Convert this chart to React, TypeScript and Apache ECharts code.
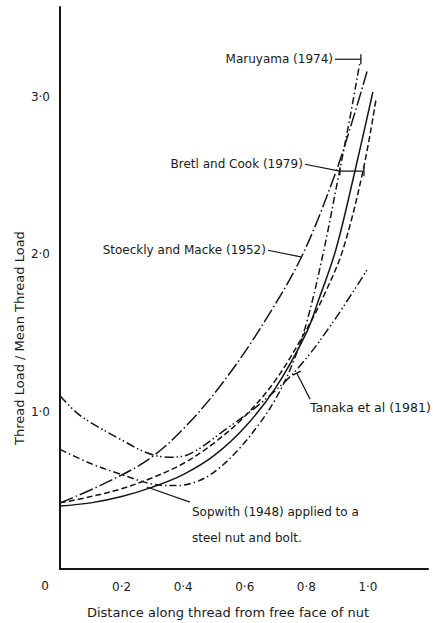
import React, { useEffect, useRef } from "react";
import * as echarts from "echarts";

// x: distance along thread from free face of nut ; y: thread load / mean thread load
const maruyama: [number, number][] = [
  [0, 0.76], [0.1, 0.67], [0.2, 0.6], [0.3, 0.54], [0.38, 0.53], [0.45, 0.56], [0.51, 0.63],
  [0.58, 0.76], [0.65, 0.93], [0.7, 1.08], [0.75, 1.28], [0.8, 1.56], [0.854, 2.0],
  [0.903, 2.48], [0.94, 2.85], [0.974, 3.22],
];
const stoeckly: [number, number][] = [
  [0, 0.42], [0.13, 0.53], [0.29, 0.7], [0.42, 0.93], [0.55, 1.24], [0.67, 1.59],
  [0.786, 1.99], [0.89, 2.49], [0.95, 2.85], [0.997, 3.16],
];
const sopwith: [number, number][] = [
  [0, 0.4], [0.1, 0.42], [0.2, 0.46], [0.3, 0.52], [0.4, 0.6], [0.5, 0.72], [0.6, 0.9],
  [0.7, 1.15], [0.8, 1.5], [0.84, 1.71], [0.896, 2.03], [0.958, 2.53], [1.016, 3.03],
];
const bretlCook: [number, number][] = [
  [0, 0.42], [0.1, 0.46], [0.2, 0.51], [0.3, 0.58], [0.4, 0.67], [0.5, 0.8], [0.6, 0.97],
  [0.7, 1.2], [0.8, 1.52], [0.86, 1.75], [0.919, 2.03], [0.984, 2.53], [1.026, 2.98],
];
const tanaka: [number, number][] = [
  [0, 1.1], [0.05, 1.0], [0.1, 0.93], [0.2, 0.82], [0.28, 0.74], [0.35, 0.71], [0.42, 0.73],
  [0.54, 0.89], [0.65, 1.05], [0.77, 1.27], [0.88, 1.55], [0.997, 1.9],
];

const xTicks = [0.2, 0.4, 0.6, 0.8, 1.0];
const yTicks = [1.0, 2.0, 3.0];

const xTitle = "Distance along thread from free face of nut";
const yTitle = "Thread Load / Mean Thread Load";

const FONT = '"DejaVu Sans", sans-serif';
const INK = "#151515";

const fmt = (v: number) => v.toFixed(1).replace(".", "·");

export default function App() {
  const ref = useRef<HTMLDivElement>(null);
  useEffect(() => {
    if (!ref.current) return;
    const chart = echarts.init(ref.current, undefined, { renderer: "svg" });
    const lineSeries = (data: [number, number][], type: any, width = 1.5) => ({
      type: "line",
      data,
      showSymbol: false,
      smooth: 0.35,
      silent: true,
      lineStyle: { color: INK, width, type, cap: "butt" },
    });
    chart.setOption({
      animation: false,
      backgroundColor: "#ffffff",
      grid: { left: 60, right: 5, top: 7, bottom: 54, outerBoundsMode: "none", containLabel: false },
      xAxis: {
        type: "value",
        min: 0,
        max: 1.195,
        interval: 0.2,
        splitLine: { show: false },
        axisTick: { show: false },
        axisLine: { show: true, lineStyle: { color: INK, width: 2 } },
        axisLabel: {
          showMaxLabel: false,
          margin: 12,
          color: "#222",
          fontSize: 12,
          fontFamily: FONT,
          formatter: (v: number) => (xTicks.some((t) => Math.abs(t - v) < 1e-6) ? fmt(v) : ""),
        },
      },
      yAxis: {
        type: "value",
        min: 0,
        max: 3.57,
        interval: 1,
        splitLine: { show: false },
        axisTick: { show: false },
        axisLine: { show: true, lineStyle: { color: INK, width: 2 } },
        axisLabel: {
          showMaxLabel: false,
          margin: 10,
          color: "#222",
          fontSize: 12,
          fontFamily: FONT,
          formatter: (v: number) => (yTicks.some((t) => Math.abs(t - v) < 1e-6) ? fmt(v) : ""),
        },
      },
      series: [
        lineSeries(maruyama, [7, 3, 1.5, 3]),
        lineSeries(stoeckly, [14, 3, 1.5, 3]),
        lineSeries(sopwith, "solid"),
        lineSeries(bretlCook, [6, 3]),
        lineSeries(tanaka, [9, 3, 1.5, 2.5, 1.5, 3]),
      ],
    });

    const P = (p: [number, number]) => chart.convertToPixel({ gridIndex: 0 }, p) as number[];
    const txt = (text: string, p: number[], align: string, extra: any = {}) => ({
      type: "text",
      x: p[0],
      y: p[1],
      silent: true,
      style: { text, fill: "#1a1a1a", fontSize: 12, fontFamily: FONT, align, verticalAlign: "middle", ...extra },
    });
    const pl = (pts: number[][]) => ({
      type: "polyline",
      silent: true,
      shape: { points: pts },
      style: { stroke: INK, lineWidth: 1.2, fill: null },
    });
    const vtick = (p: number[], h = 5) => ({
      type: "line",
      silent: true,
      shape: { x1: p[0], y1: p[1] - h, x2: p[0], y2: p[1] + h },
      style: { stroke: INK, lineWidth: 1.3 },
    });

    const origin = P([0, 0]);
    const g: any[] = [];
    // origin "0"
    g.push(txt("0", [origin[0] - 15, origin[1] + 17], "center"));
    // axis titles
    g.push(txt(xTitle, [origin[0] + 168, origin[1] + 43], "center", { fontSize: 13 }));
    g.push({
      type: "text",
      x: 19,
      y: 338,
      rotation: Math.PI / 2,
      silent: true,
      style: { text: yTitle, fill: "#1a1a1a", fontSize: 13, fontFamily: FONT, align: "center", verticalAlign: "middle" },
    });

    // Maruyama
    const mA = P([0.893, 3.238]);
    const mB = P([0.977, 3.238]);
    g.push(txt("Maruyama (1974)", [mA[0] - 2, mA[1]], "right"));
    g.push(pl([mA, mB]));
    g.push(vtick(mB, 5));

    // Bretl and Cook
    const bA = P([0.795, 2.571]);
    const bB = P([0.909, 2.527]);
    const bC = P([0.987, 2.527]);
    g.push(txt("Bretl and Cook (1979)", [bA[0] - 2, bA[1]], "right"));
    g.push(pl([bA, bB, bC]));
    g.push(vtick(bB, 4));
    g.push(vtick(bC, 5));

    // Stoeckly and Macke
    const sA = P([0.675, 2.025]);
    const sB = P([0.786, 1.981]);
    g.push(txt("Stoeckly and Macke (1952)", [sA[0] - 2, sA[1]], "right"));
    g.push(pl([sA, sB]));

    // Tanaka
    const tA = P([0.812, 1.079]);
    const tB = P([0.769, 1.244]);
    g.push(txt("Tanaka et al (1981)", [tA[0], tA[1] + 8], "left", { fontSize: 12.5 }));
    g.push(pl([tA, tB]));
    g.push({
      type: "line",
      silent: true,
      shape: { x1: tB[0] - 4, y1: tB[1] + 2, x2: tB[0] + 4, y2: tB[1] - 2 },
      style: { stroke: INK, lineWidth: 1.3 },
    });

    // Sopwith
    const wA = P([0.422, 0.425]);
    const wB = P([0.282, 0.521]);
    g.push(txt("Sopwith (1948) applied to a", [wA[0] + 2, wA[1] + 10], "left"));
    g.push(txt("steel nut and bolt.", [wA[0] + 2, wA[1] + 36], "left"));
    g.push(pl([wA, wB]));

    chart.setOption({ graphic: g });
    return () => chart.dispose();
  }, []);
  return <div ref={ref} style={{ width: 433, height: 623, position: "absolute", left: 0, top: 0 }} />;
}
